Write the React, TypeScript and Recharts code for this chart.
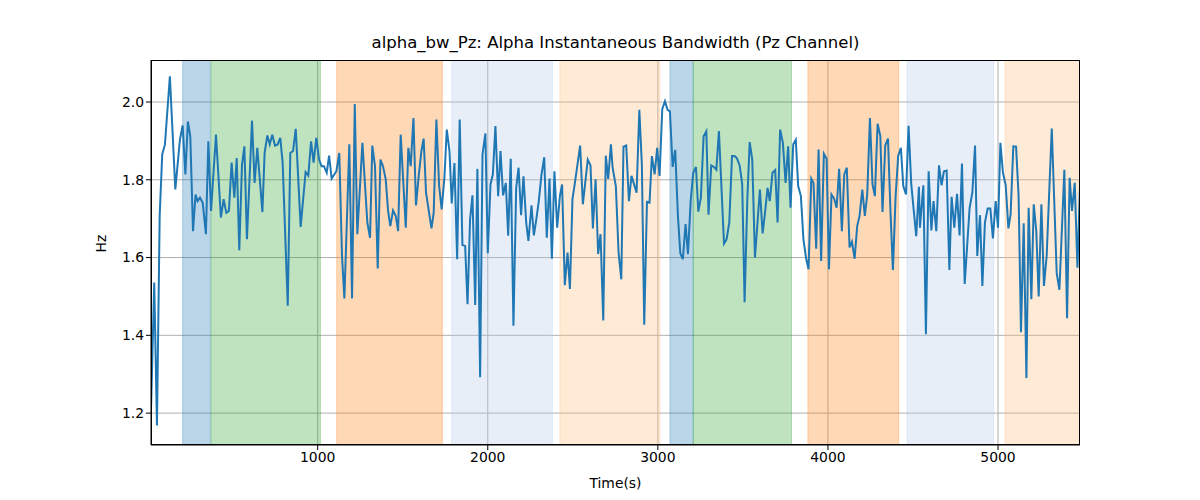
import { LineChart, Line, XAxis, YAxis, CartesianGrid, ReferenceArea } from "recharts"

const times = [
  20, 39, 55, 71, 86, 102, 131, 163, 190, 206, 222, 237, 251, 267, 282, 294, 308, 324, 343, 357, 373, 402, 431, 447, 463, 478, 494, 510, 524, 539, 555, 569, 584, 614, 629, 645, 675, 688, 704, 718, 733, 749, 765, 780, 794, 824, 839, 855, 871, 900,
  929, 945, 961, 976, 992, 1008, 1023, 1037, 1053, 1067, 1082, 1110, 1127, 1143, 1157, 1186, 1202, 1218, 1233, 1263, 1292, 1308, 1321, 1337, 1353, 1369, 1384, 1400, 1414, 1427, 1443, 1459, 1473, 1488, 1518, 1533, 1547, 1563, 1578, 1594, 1610, 1623, 1637, 1669, 1682, 1698, 1714, 1729, 1745, 1759, 1775, 1788, 1804,
  1820, 1835, 1851, 1867, 1881, 1896, 1910, 1926, 1939, 1955, 1969, 1986, 2000, 2016, 2030, 2045, 2061, 2075, 2090, 2106, 2120, 2135, 2151, 2167, 2181, 2196, 2210, 2226, 2239, 2257, 2271, 2286, 2300, 2316, 2332, 2347, 2363, 2377, 2392, 2408, 2424, 2437, 2453, 2469, 2483, 2498, 2514, 2543, 2559, 2588, 2604, 2618, 2634, 2649, 2663, 2679, 2694, 2708, 2724,
  2734, 2753, 2769, 2785, 2798, 2814, 2830, 2845, 2875, 2891, 2906, 2920, 2936, 2951, 2965, 2981, 2996, 3010, 3026, 3042, 3057, 3071, 3087, 3102, 3118, 3132, 3147, 3163, 3177, 3193, 3208, 3224, 3238, 3253, 3269, 3285, 3298, 3314, 3330, 3344, 3359, 3389, 3404, 3420, 3436, 3451, 3465, 3481, 3496, 3510, 3526, 3540, 3555, 3571, 3600, 3616,
  3629, 3645, 3658, 3674, 3690, 3704, 3719, 3735, 3751, 3766, 3780, 3796, 3811, 3825, 3841, 3856, 3872, 3886, 3902, 3915, 3931, 3945, 3960, 3976, 3992, 4006, 4021, 4037, 4051, 4066, 4082, 4096, 4111, 4127, 4141, 4157, 4172, 4186, 4202, 4217, 4231, 4247, 4262, 4276, 4292, 4308, 4321, 4337, 4353, 4368, 4382, 4398, 4413, 4429, 4443, 4459, 4474, 4490, 4519, 4535,
  4541, 4561, 4576, 4592, 4608, 4621, 4637, 4653, 4668, 4682, 4698, 4714, 4727, 4743, 4759, 4774, 4788, 4804, 4833, 4849, 4865, 4878, 4894, 4908, 4923, 4939, 4955, 4970, 4986, 5000, 5014, 5029, 5045, 5061, 5074, 5090, 5106, 5121, 5135, 5151, 5167, 5180, 5196, 5210, 5225, 5239, 5255, 5270, 5286, 5316, 5345, 5361, 5390, 5406, 5421, 5435, 5451, 5467, 5482,
]

const bandwidth = [
  1.207, 1.536, 1.168, 1.707, 1.865, 1.891, 2.066, 1.775, 1.903, 1.94, 1.814, 1.95, 1.912, 1.668, 1.762, 1.745, 1.754, 1.741, 1.66, 1.899, 1.72, 1.916, 1.703, 1.75, 1.715, 1.72, 1.844, 1.754, 1.856, 1.619, 1.839, 1.886, 1.647, 1.952, 1.792, 1.882, 1.717, 1.869, 1.914, 1.891, 1.916, 1.888, 1.891, 1.908, 1.844, 1.476, 1.869, 1.874, 1.931, 1.679,
  1.82, 1.811, 1.899, 1.844, 1.908, 1.852, 1.835, 1.835, 1.818, 1.862, 1.803, 1.822, 1.869, 1.604, 1.495, 1.891, 1.495, 1.995, 1.66, 1.895, 1.69, 1.651, 1.888, 1.835, 1.572, 1.852, 1.835, 1.801, 1.72, 1.681, 1.721, 1.707, 1.668, 1.916, 1.677, 1.882, 1.835, 1.959, 1.734, 1.81, 1.874, 1.906, 1.767, 1.675, 1.715, 1.955, 1.784, 1.724, 1.805, 1.929, 1.874, 1.739, 1.843,
  1.596, 1.955, 1.632, 1.63, 1.48, 1.698, 1.76, 1.478, 1.828, 1.292, 1.865, 1.919, 1.611, 1.788, 1.814, 1.938, 1.758, 1.874, 1.76, 1.792, 1.656, 1.854, 1.425, 1.779, 1.831, 1.709, 1.809, 1.69, 1.643, 1.734, 1.657, 1.7, 1.745, 1.814, 1.858, 1.651, 1.803, 1.597, 1.822, 1.677, 1.758, 1.788, 1.529, 1.613, 1.519, 1.75, 1.797, 1.888, 1.737, 1.852, 1.837, 1.675, 1.801, 1.609, 1.66, 1.438, 1.862, 1.802, 1.891,
  1.831, 1.784, 1.613, 1.544, 1.885, 1.888, 1.745, 1.81, 1.767, 1.98, 1.839, 1.427, 1.743, 1.741, 1.861, 1.814, 1.882, 1.81, 1.982, 2.002, 1.98, 1.976, 1.833, 1.877, 1.707, 1.611, 1.596, 1.686, 1.609, 1.745, 1.818, 1.833, 1.718, 1.754, 1.912, 1.925, 1.71, 1.837, 1.833, 1.826, 1.925, 1.636, 1.647, 1.69, 1.861, 1.861, 1.855, 1.837, 1.788, 1.485, 1.75, 1.897, 1.852, 1.6, 1.775, 1.662,
  1.711, 1.779, 1.745, 1.818, 1.825, 1.69, 1.929, 1.895, 1.792, 1.886, 1.728, 1.891, 1.903, 1.784, 1.758, 1.647, 1.597, 1.57, 1.803, 1.792, 1.623, 1.878, 1.591, 1.867, 1.854, 1.57, 1.762, 1.751, 1.728, 1.828, 1.668, 1.814, 1.831, 1.626, 1.641, 1.597, 1.681, 1.707, 1.775, 1.707, 1.762, 1.959, 1.788, 1.758, 1.944, 1.912, 1.717, 1.888, 1.906, 1.715, 1.568, 1.758, 1.861, 1.882, 1.784, 1.762, 1.939, 1.788, 1.655, 1.782,
  1.677, 1.786, 1.403, 1.822, 1.67, 1.745, 1.668, 1.837, 1.786, 1.822, 1.824, 1.568, 1.756, 1.677, 1.764, 1.657, 1.842, 1.532, 1.728, 1.767, 1.888, 1.604, 1.709, 1.527, 1.69, 1.726, 1.726, 1.649, 1.745, 1.677, 1.895, 1.818, 1.786, 1.675, 1.711, 1.886, 1.885, 1.758, 1.408, 1.688, 1.29, 1.728, 1.493, 1.737, 1.668, 1.5, 1.737, 1.527, 1.604, 1.932, 1.56, 1.517, 1.826, 1.444, 1.805, 1.72, 1.792, 1.574, 1.784,
]

// shaded segments: start, end, colour
const segStart = [206, 373, 1112, 1788, 2424, 3071, 3208, 3882, 4465, 5041]
const segEnd = [369, 1016, 1733, 2380, 3012, 3208, 3786, 4416, 4975, 5482]
const segColor = ["#1f77b4", "#2ca02c", "#ff7f0e", "#aec7e8", "#ffbb78", "#1f77b4", "#2ca02c", "#ff7f0e", "#aec7e8", "#ffbb78"]

const xTicks = [1000, 2000, 3000, 4000, 5000]
const yTicks = [1.2, 1.4, 1.6, 1.8, 2.0]

const data = times.map((t, i) => ({ t, v: bandwidth[i] }))

const font = "DejaVu Sans, sans-serif"

export default function App() {
  return (
    <div style={{ position: "relative", width: 1200, height: 500, margin: -8, background: "#fff", fontFamily: font }}>
      <div style={{ position: "absolute", top: 33, left: 0, width: 1231, textAlign: "center", fontSize: 16.5, color: "#000" }}>
        alpha_bw_Pz: Alpha Instantaneous Bandwidth (Pz Channel)
      </div>
      <LineChart width={1200} height={500} data={data} margin={{ top: 60, right: 120, bottom: 0, left: 91 }}>
        {segStart.map((s, i) => (
          <ReferenceArea key={i} x1={s} x2={segEnd[i]} fill={segColor[i]} fillOpacity={0.3} stroke={segColor[i]} strokeOpacity={0.3} ifOverflow="hidden" />
        ))}
        <CartesianGrid stroke="#b0b0b0" strokeWidth={1} verticalValues={xTicks} horizontalValues={yTicks} />
        <XAxis
          dataKey="t"
          type="number"
          domain={[20, 5482]}
          ticks={xTicks}
          height={55}
          allowDataOverflow
          tick={{ fill: "#000", fontSize: 13.9, fontFamily: font }}
          tickLine={{ stroke: "#000" }}
          tickSize={5}
          axisLine={{ stroke: "#000" }}
          label={{ value: "Time(s)", position: "insideBottom", offset: 12, fill: "#000", fontSize: 13.9, fontFamily: font }}
        />
        <YAxis
          type="number"
          domain={[1.118, 2.108]}
          ticks={yTicks}
          width={60}
          allowDataOverflow
          tickFormatter={(v: number) => v.toFixed(1)}
          tick={{ fill: "#000", fontSize: 13.9, fontFamily: font }}
          tickLine={{ stroke: "#000" }}
          tickSize={5}
          axisLine={{ stroke: "#000" }}
          label={{ value: "Hz", angle: -90, position: "insideLeft", offset: 10, fill: "#000", fontSize: 13.9, fontFamily: font }}
        />
        <Line type="linear" dataKey="v" stroke="#1f77b4" strokeWidth={2} dot={false} isAnimationActive={false} />
      </LineChart>
      <div style={{ position: "absolute", left: 151, top: 60, width: 929, height: 385, border: "1px solid #000", boxSizing: "border-box", pointerEvents: "none" }} />
    </div>
  )
}
